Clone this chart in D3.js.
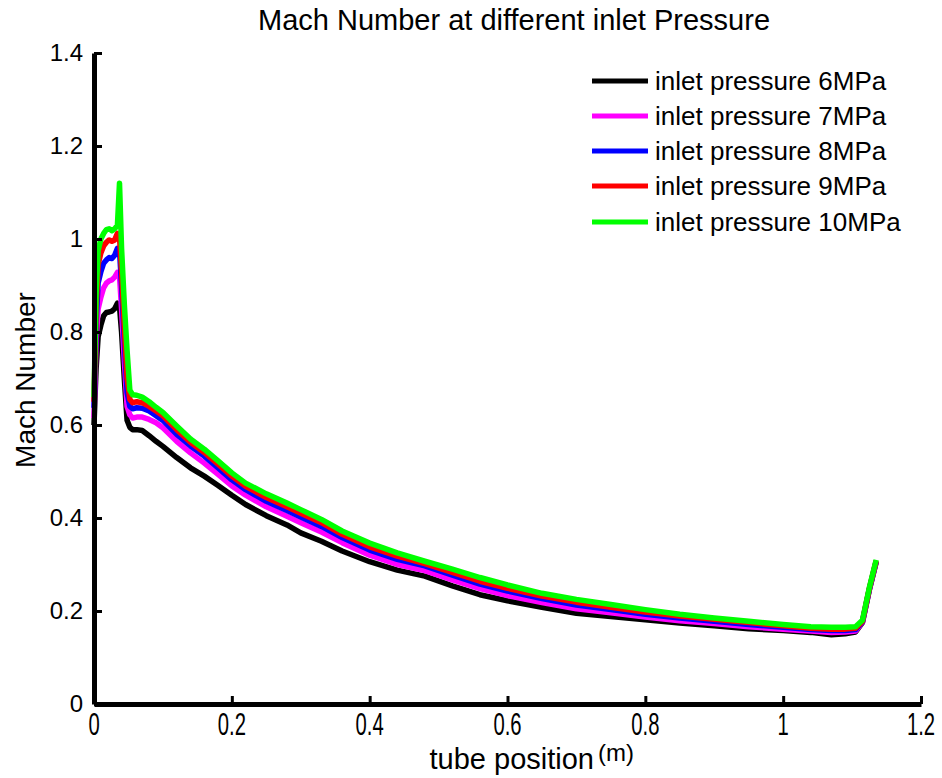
<!DOCTYPE html>
<html><head><meta charset="utf-8">
<script src="https://cdn.jsdelivr.net/npm/d3@7"></script>
<style>
html,body{margin:0;padding:0;background:#fff;}
text{font-family:Arial,"Liberation Sans",Helvetica,sans-serif;fill:#000;}
</style></head>
<body>
<svg id="chart" width="942" height="778"></svg>
<script>
const xPos = [0, 0.003, 0.006, 0.01, 0.014, 0.018, 0.022, 0.026, 0.030, 0.034, 0.037, 0.040, 0.044, 0.048, 0.052, 0.056, 0.062, 0.07, 0.08, 0.09, 0.10, 0.12, 0.14, 0.16, 0.18, 0.20, 0.22, 0.25, 0.28, 0.30, 0.33, 0.36, 0.40, 0.44, 0.48, 0.52, 0.56, 0.60, 0.65, 0.70, 0.75, 0.80, 0.85, 0.90, 0.95, 1.00, 1.04, 1.07, 1.09, 1.105, 1.115, 1.125, 1.135];

const mach6MPa = [0.60, 0.72, 0.79, 0.815, 0.835, 0.842, 0.843, 0.845, 0.85, 0.862, 0.855, 0.80, 0.70, 0.61, 0.595, 0.59, 0.59, 0.588, 0.577, 0.565, 0.554, 0.53, 0.508, 0.49, 0.47, 0.449, 0.429, 0.405, 0.385, 0.368, 0.35, 0.329, 0.306, 0.288, 0.275, 0.254, 0.235, 0.222, 0.208, 0.195, 0.188, 0.181, 0.174, 0.168, 0.162, 0.158, 0.154, 0.149, 0.151, 0.155, 0.175, 0.245, 0.305];
const mach7MPa = [0.615, 0.78, 0.85, 0.875, 0.895, 0.905, 0.91, 0.912, 0.918, 0.928, 0.92, 0.85, 0.74, 0.64, 0.622, 0.615, 0.617, 0.617, 0.612, 0.605, 0.594, 0.565, 0.54, 0.518, 0.494, 0.469, 0.449, 0.424, 0.404, 0.39, 0.37, 0.347, 0.32, 0.30, 0.287, 0.267, 0.248, 0.233, 0.218, 0.205, 0.196, 0.187, 0.179, 0.173, 0.166, 0.161, 0.157, 0.154, 0.155, 0.157, 0.176, 0.246, 0.306];
const mach8MPa = [0.637, 0.82, 0.905, 0.93, 0.948, 0.955, 0.96, 0.958, 0.965, 0.98, 0.975, 0.90, 0.78, 0.67, 0.64, 0.635, 0.637, 0.636, 0.63, 0.62, 0.61, 0.58, 0.555, 0.533, 0.508, 0.482, 0.461, 0.436, 0.416, 0.402, 0.382, 0.358, 0.331, 0.311, 0.297, 0.277, 0.258, 0.243, 0.227, 0.213, 0.203, 0.193, 0.185, 0.178, 0.171, 0.165, 0.16, 0.158, 0.158, 0.16, 0.177, 0.247, 0.307];
const mach9MPa = [0.65, 0.85, 0.945, 0.97, 0.985, 0.993, 0.998, 0.995, 0.998, 1.012, 1.005, 0.93, 0.81, 0.70, 0.655, 0.648, 0.65, 0.648, 0.64, 0.63, 0.62, 0.59, 0.563, 0.541, 0.516, 0.49, 0.468, 0.444, 0.424, 0.41, 0.39, 0.365, 0.338, 0.318, 0.302, 0.283, 0.264, 0.249, 0.232, 0.219, 0.208, 0.198, 0.189, 0.182, 0.175, 0.168, 0.163, 0.161, 0.161, 0.163, 0.178, 0.248, 0.308];
const mach10MPa = [0.66, 0.88, 0.975, 1.0, 1.012, 1.02, 1.022, 1.018, 1.022, 1.03, 1.12, 0.98, 0.86, 0.76, 0.675, 0.665, 0.664, 0.66, 0.65, 0.638, 0.627, 0.598, 0.57, 0.548, 0.523, 0.497, 0.475, 0.452, 0.432, 0.418, 0.397, 0.372, 0.346, 0.325, 0.307, 0.29, 0.272, 0.256, 0.238, 0.225, 0.214, 0.203, 0.193, 0.185, 0.178, 0.171, 0.166, 0.165, 0.165, 0.166, 0.18, 0.25, 0.31];

const seriesNames = ["inlet pressure 6MPa", "inlet pressure 7MPa", "inlet pressure 8MPa", "inlet pressure 9MPa", "inlet pressure 10MPa"];
const seriesColors = ["#000000", "#ff00ff", "#0000ff", "#ff0000", "#00ff00"];
const seriesValues = [mach6MPa, mach7MPa, mach8MPa, mach9MPa, mach10MPa];

const xTicks = [0, 0.2, 0.4, 0.6, 0.8, 1, 1.2];
const yTicks = [0, 0.2, 0.4, 0.6, 0.8, 1, 1.2, 1.4];

const titleText = "Mach Number at different inlet Pressure";
const xLabelText = "tube position";
const xUnitText = "(m)";
const yLabelText = "Mach Number";

const svg = d3.select("#chart");
const x = d3.scaleLinear().domain([0, 1.2]).range([94, 921]);
const y = d3.scaleLinear().domain([0, 1.4]).range([704, 53]);

// series
const line = d3.line().x(d => x(d[0])).y(d => y(d[1]));
seriesValues.forEach((vals, i) => {
  const pts = xPos.map((xv, j) => [xv, vals[j]]);
  svg.append("path").datum(pts)
    .attr("d", line)
    .attr("fill", "none")
    .attr("stroke", seriesColors[i])
    .attr("stroke-width", 5.5)
    .attr("stroke-linejoin", "round")
    .attr("stroke-linecap", "butt");
});

// axes
const yAxis = d3.axisLeft(y).tickValues(yTicks).tickSizeInner(-8).tickSizeOuter(0).tickPadding(11)
  .tickFormat(d => d3.format("")(d));
const gy = svg.append("g").attr("transform", "translate(94,0)").call(yAxis);
gy.select(".domain").attr("stroke", "#000").attr("stroke-width", 5);
gy.selectAll(".tick line").attr("stroke", "#000").attr("stroke-width", 3);
gy.selectAll(".tick text").style("font-size", "24px").style("font-family", "Arial, 'Liberation Sans', sans-serif").attr("fill", "#000");

const xAxis = d3.axisBottom(x).tickValues(xTicks).tickSizeInner(-8).tickSizeOuter(0).tickFormat(() => "");
const gx = svg.append("g").attr("transform", "translate(0,704)").call(xAxis);
gx.select(".domain").attr("stroke", "#000").attr("stroke-width", 5);
gx.selectAll(".tick line").attr("stroke", "#000").attr("stroke-width", 3);
// x tick labels (tall, narrow style)
xTicks.forEach(t => {
  svg.append("text")
    .attr("transform", `translate(${x(t)},735) scale(0.88,1.4)`)
    .attr("text-anchor", "middle")
    .style("font-size", "23px")
    .text(d3.format("")(t));
});

// title
svg.append("text").attr("x", 514).attr("y", 30).attr("text-anchor", "middle")
  .style("font-size", "29px").text(titleText);

// x label
svg.append("text").attr("x", 594).attr("y", 769).attr("text-anchor", "end")
  .style("font-size", "29px").text(xLabelText);
svg.append("text").attr("x", 598).attr("y", 761).attr("text-anchor", "start")
  .style("font-size", "24px").text(xUnitText);

// y label
svg.append("text").attr("transform", "translate(35,380) rotate(-90)").attr("text-anchor", "middle")
  .style("font-size", "28px").text(yLabelText);

// legend
const legY = [81, 116, 151, 186, 222];
seriesNames.forEach((name, i) => {
  svg.append("line").attr("x1", 592).attr("x2", 648).attr("y1", legY[i]).attr("y2", legY[i])
    .attr("stroke", seriesColors[i]).attr("stroke-width", 5);
  svg.append("text").attr("x", 655).attr("y", legY[i]).attr("dy", "0.35em")
    .style("font-size", "26px").text(name);
});
</script>
</body></html>
